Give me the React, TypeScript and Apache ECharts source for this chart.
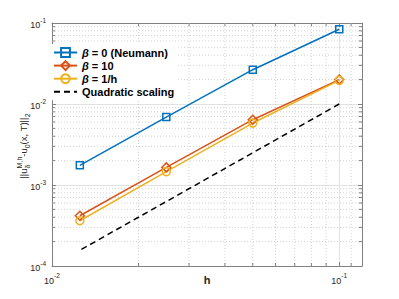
import React, { useEffect, useRef } from "react";
import * as echarts from "echarts";

const FONT = "'Liberation Sans', Arial, Helvetica, sans-serif";

const hValues = [0.1, 0.05, 0.025, 0.0125];
const neumann = [0.0836, 0.0265, 0.0069, 0.00175];
const beta10 = [0.02, 0.0064, 0.00165, 0.000417];
const betaInvH = [0.0196, 0.00582, 0.00146, 0.000362];
const quadratic = [0.01, 0.0025, 0.000625, 0.00015625];

const seriesNames = ["β = 0 (Neumann)", "β = 10", "β = 1/h", "Quadratic scaling"];
const seriesColors = ["#0072BD", "#D95319", "#EDB120", "#000000"];

const xMin = 0.01;
const xMax = 0.12;
const yMin = 0.0001;
const yMax = 0.1;
const xMinorTicks = [0.02, 0.03, 0.04, 0.05, 0.06, 0.07, 0.08, 0.09, 0.11];
const yMinorTicks = [
  0.0002, 0.0003, 0.0004, 0.0005, 0.0006, 0.0007, 0.0008, 0.0009,
  0.002, 0.003, 0.004, 0.005, 0.006, 0.007, 0.008, 0.009,
  0.02, 0.03, 0.04, 0.05, 0.06, 0.07, 0.08, 0.09,
];

const AXIS_COLOR = "#808080";
const TEXT_COLOR = "#262626";

function measure(text: string, font: string): number {
  const c = document.createElement("canvas");
  const ctx = c.getContext("2d");
  if (!ctx) return text.length * 6;
  ctx.font = font;
  return ctx.measureText(text).width;
}

function pow10Label(v: number): string {
  const e = Math.round(Math.log10(v));
  if (Math.abs(v - Math.pow(10, e)) / v > 1e-6) return "";
  return `{b|10}{s|${e}}`;
}

const labelRich = {
  b: { fontSize: 9, fontFamily: FONT, color: TEXT_COLOR, verticalAlign: "bottom", lineHeight: 13 },
  s: { fontSize: 6.5, fontFamily: FONT, color: TEXT_COLOR, verticalAlign: "top", lineHeight: 13 },
};

export default function App() {
  const ref = useRef<HTMLDivElement>(null);

  useEffect(() => {
    if (!ref.current) return;
    const chart = echarts.init(ref.current, undefined, { renderer: "svg" });

    const baseSize = 9.5;
    const smallSize = 7;
    const weight = "normal";
    const baseFont = `${weight} ${baseSize}px ${FONT}`;
    const smallFont = `${weight} ${smallSize}px ${FONT}`;
    const pieces: { t: string; small: boolean; dy: number; stackWith?: boolean }[] = [
      { t: "||u", small: false, dy: 0 },
      { t: "M,h", small: true, dy: -4 },
      { t: "δ", small: true, dy: 4, stackWith: true },
      { t: "-u", small: false, dy: 0 },
      { t: "0", small: true, dy: 4 },
      { t: "(x, T)||", small: false, dy: 0 },
      { t: "2", small: true, dy: 4 },
    ];
    const children: any[] = [];
    let cursor = 0;
    let lastStart = 0;
    let lastWidth = 0;
    for (const p of pieces) {
      const w = measure(p.t, p.small ? smallFont : baseFont);
      let x0: number;
      if (p.stackWith) {
        x0 = lastStart;
        cursor = lastStart + Math.max(lastWidth, w);
      } else {
        x0 = cursor;
        cursor += w;
      }
      lastStart = x0;
      lastWidth = w;
      children.push({
        type: "text",
        x: x0,
        y: p.dy,
        style: {
          text: p.t,
          fontSize: p.small ? smallSize : baseSize,
          fontWeight: weight,
          fontFamily: FONT,
          fill: TEXT_COLOR,
          align: "left",
          verticalAlign: "middle",
        },
      });
    }
    const totalLen = cursor;
    const centerY = 146;

    const makeLine = (name: string, values: number[], color: string, symbol: string, size: number, dashed = false) => ({
      name,
      type: "line",
      data: hValues.map((h, i) => [h, values[i]]),
      symbol,
      symbolSize: size,
      showSymbol: symbol !== "none",
      lineStyle: { color, width: 1.5, type: dashed ? [6, 4] : "solid" },
      itemStyle: { color: "rgba(255,255,255,0)", borderColor: color, borderWidth: 1.5 },
      z: 3,
    });

    const minorData: number[][] = [
      ...xMinorTicks.map((x) => [x, 0.001, 0]),
      ...yMinorTicks.map((y) => [0.03, y, 1]),
    ];

    const legendData: any[] = seriesNames.map((n, i) =>
      i === 3
        ? { name: n, itemStyle: { color: "rgba(0,0,0,0)", borderColor: "rgba(0,0,0,0)", borderWidth: 0 } }
        : { name: n }
    );

    const option: any = {
      animation: false,
      backgroundColor: "#ffffff",
      grid: { left: 52, top: 23, right: 37, bottom: 33, containLabel: false, outerBoundsMode: "none" },
      legend: {
        data: legendData,
        orient: "vertical",
        left: 52,
        top: 44,
        itemWidth: 23,
        itemHeight: 11,
        itemGap: 2.1,
        padding: [3, 4, 3, 1],
        backgroundColor: "#ffffff",
        textStyle: {
          fontSize: 11,
          fontWeight: "bold",
          fontFamily: FONT,
          color: "#000000",
          rich: {
            i: { fontSize: 11, fontWeight: "bold", fontStyle: "italic", fontFamily: FONT, color: "#000000" },
          },
        },
        formatter: (name: string) => name.replace("β", "{i|β}"),
      },
      xAxis: [
        {
          type: "log",
          logBase: 10,
          min: xMin,
          max: xMax,
          name: "h",
          nameLocation: "middle",
          nameGap: 8,
          nameMoveOverlap: false,
          nameTextStyle: { fontSize: 11, fontWeight: "bold", fontFamily: FONT, color: TEXT_COLOR },
          axisLine: { show: true, lineStyle: { color: AXIS_COLOR, width: 1 } },
          axisTick: { show: true, inside: true, length: 4, lineStyle: { color: AXIS_COLOR } },
          axisLabel: { formatter: pow10Label, rich: labelRich, margin: 6, showMaxLabel: true },
          splitLine: { show: true, lineStyle: { color: "#e2e2e2", width: 1 } },
        },
        {
          type: "log",
          logBase: 10,
          min: xMin,
          max: xMax,
          position: "top",
          axisLine: { show: true, lineStyle: { color: AXIS_COLOR, width: 1 } },
          axisTick: { show: true, inside: true, length: 4, lineStyle: { color: AXIS_COLOR } },
          axisLabel: { show: false },
          splitLine: { show: false },
        },
      ],
      yAxis: [
        {
          type: "log",
          logBase: 10,
          min: yMin,
          max: yMax,
          axisLine: { show: true, lineStyle: { color: AXIS_COLOR, width: 1 } },
          axisTick: { show: true, inside: true, length: 4, lineStyle: { color: AXIS_COLOR } },
          axisLabel: { formatter: pow10Label, rich: labelRich, margin: 6 },
          splitLine: { show: true, lineStyle: { color: "#e2e2e2", width: 1 } },
        },
        {
          type: "log",
          logBase: 10,
          min: yMin,
          max: yMax,
          position: "right",
          axisLine: { show: true, lineStyle: { color: AXIS_COLOR, width: 1 } },
          axisTick: { show: true, inside: true, length: 4, lineStyle: { color: AXIS_COLOR } },
          axisLabel: { show: false },
          splitLine: { show: false },
        },
      ],
      series: [
        {
          name: "minor",
          type: "custom",
          silent: true,
          z: 1,
          data: minorData,
          renderItem: (params: any, api: any) => {
            const cs = params.coordSys;
            const kind = api.value(2);
            const pt = api.coord([api.value(0), api.value(1)]);
            const grid = { stroke: "#c8c8c8", lineWidth: 0.8, lineDash: [1, 2] };
            const tick = { stroke: AXIS_COLOR, lineWidth: 1 };
            if (kind === 0) {
              const px = pt[0];
              return {
                type: "group",
                children: [
                  { type: "line", shape: { x1: px, y1: cs.y, x2: px, y2: cs.y + cs.height }, style: grid },
                  { type: "line", shape: { x1: px, y1: cs.y + cs.height, x2: px, y2: cs.y + cs.height - 3 }, style: tick },
                  { type: "line", shape: { x1: px, y1: cs.y, x2: px, y2: cs.y + 3 }, style: tick },
                ],
              };
            }
            const py = pt[1];
            return {
              type: "group",
              children: [
                { type: "line", shape: { x1: cs.x, y1: py, x2: cs.x + cs.width, y2: py }, style: grid },
                { type: "line", shape: { x1: cs.x, y1: py, x2: cs.x + 3, y2: py }, style: tick },
                { type: "line", shape: { x1: cs.x + cs.width, y1: py, x2: cs.x + cs.width - 3, y2: py }, style: tick },
              ],
            };
          },
        },
        makeLine(seriesNames[0], neumann, seriesColors[0], "rect", 7),
        makeLine(seriesNames[1], beta10, seriesColors[1], "diamond", 9),
        makeLine(seriesNames[2], betaInvH, seriesColors[2], "circle", 8),
        makeLine(seriesNames[3], quadratic, seriesColors[3], "none", 0, true),
      ],
      graphic: [
        {
          type: "group",
          x: 23,
          y: centerY + totalLen / 2,
          rotation: Math.PI / 2,
          children,
        },
      ],
    };
    chart.setOption(option);
    return () => chart.dispose();
  }, []);

  return (
    <div
      ref={ref}
      style={{ position: "fixed", left: 0, top: 0, width: 399, height: 299, background: "#fff" }}
    />
  );
}
